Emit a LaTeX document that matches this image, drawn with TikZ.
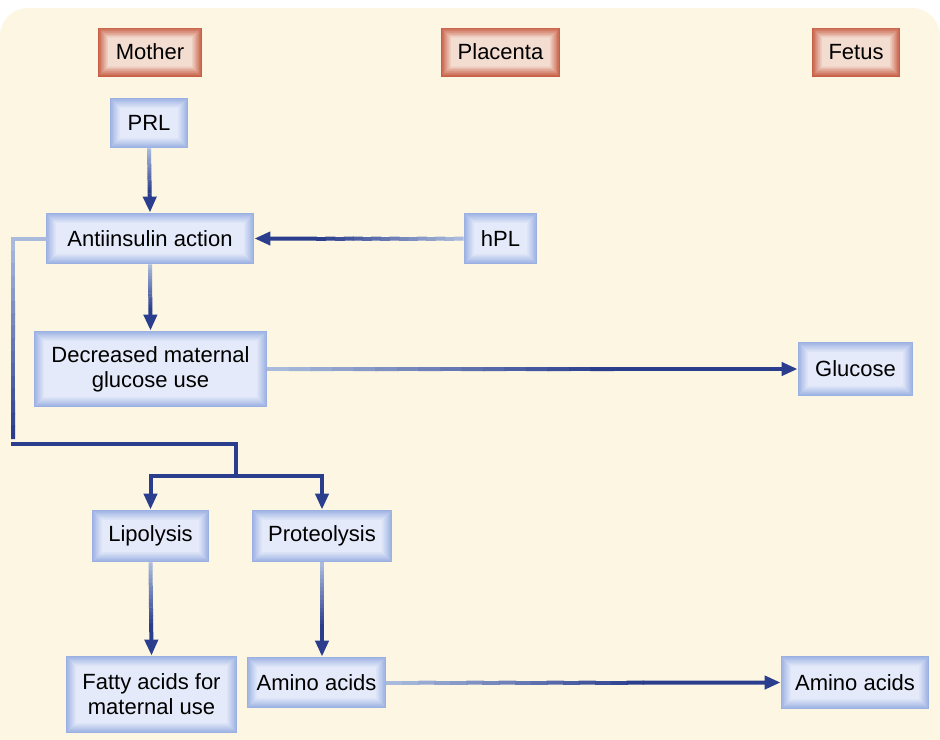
\documentclass[tikz,border=0pt]{standalone}
\usepackage{fontspec}
\setmainfont{Liberation Sans}
\usetikzlibrary{arrows.meta,calc,positioning}

\definecolor{cream}{HTML}{FDF6E2}
\definecolor{navy}{HTML}{2B3E8E}
\definecolor{paleline}{HTML}{A9BADC}
\definecolor{bluerim}{HTML}{9BB0E2}
\definecolor{bluemid}{HTML}{E4EAF9}
\definecolor{redrim}{HTML}{C75E45}
\definecolor{redmid}{HTML}{F3DCD0}

\tikzset{
  bevel/.style 2 args={path picture={
      \foreach \k in {0,...,16}{
        \pgfmathtruncatemacro\pc{100-\k*100/16}
        \fill[#2!\pc!#1]
          ([shift={(\k*0.32pt,\k*0.32pt)}]path picture bounding box.south west)
          rectangle
          ([shift={(-\k*0.32pt,-\k*0.32pt)}]path picture bounding box.north east);
      }}},
  sitebox/.style={inner sep=0pt, minimum height=24.5pt, bevel={redmid}{redrim}},
  stepbox/.style={inner sep=0pt, align=center, bevel={bluemid}{bluerim}},
  link/.style={draw=navy, line width=2pt, line cap=rect},
  flow/.style={draw=navy, line width=2pt, -{Triangle[length=8pt,width=6.5pt]}},
}

\begin{document}
\begin{tikzpicture}[x=0.5pt, y=-0.5pt, font=\fontsize{11}{12.5}\selectfont]
  \useasboundingbox (0,0) rectangle (940,739);
  \begin{scope}
    \clip (0,0) rectangle (940,739);
    \fill[white] (0,0) rectangle (940,739);
    \fill[cream, rounded corners=14] (0,8) rectangle (940,780);
  \end{scope}
  % pale-to-dark run over the first part, then the dark arrow
  \newcommand{\fadeon}[3]{%
    \foreach \i in {0,...,15}{
      \pgfmathtruncatemacro\pc{100*\i/15}
      \draw[line width=2pt, draw=navy!\pc!paleline]
        ($(#1)!{#3*\i/16}!(#2)$) -- ($(#1)!{#3*(\i+1.1)/16}!(#2)$);
    }}
  \newcommand{\fadearrow}[3]{%
    \fadeon{#1}{#2}{#3}
    \draw[flow] ($(#1)!#3!(#2)$) -- (#2);}

  \node[sitebox, minimum width=52pt]   (mother)   at (150,52)  {Mother};
  \node[sitebox, minimum width=59.5pt] (placenta) at (500.5,52) {Placenta};
  \node[sitebox, minimum width=44pt]   (fetus)    at (856,52)  {Fetus};

  \node[stepbox, minimum width=39pt, minimum height=25pt]     (prl)  at (149,123)     {PRL};
  \node[stepbox, minimum width=104pt, minimum height=25.5pt]  (anti) at (150,238.5)   {Antiinsulin action};
  \node[stepbox, minimum width=36.5pt, minimum height=25.5pt] (hpl)  at (500.5,238.5) {hPL};
  \node[stepbox, minimum width=116.5pt, minimum height=38pt]  (decr) at (150.5,369)   {Decreased maternal\\glucose use};
  \node[stepbox, minimum width=57.5pt, minimum height=27pt]   (gluc) at (855.5,369)   {Glucose};
  \node[stepbox, minimum width=58.5pt, minimum height=26pt]   (lipo) at (150.5,536)   {Lipolysis};
  \node[stepbox, minimum width=70pt, minimum height=26pt]     (prot) at (322,536)     {Proteolysis};
  \node[stepbox, minimum width=85.5pt, minimum height=38.5pt] (fatty) at (151.5,694.5) {Fatty acids for\\maternal use};
  \node[stepbox, minimum width=69.5pt, minimum height=25.5pt] (amino) at (316.5,682.5) {Amino acids};
  \node[stepbox, minimum width=74pt, minimum height=26.5pt]   (aminof) at (855,682.5) {Amino acids};

  \coordinate (turn) at (13,238.5);
  \coordinate (bend) at (13,444);
  \coordinate (fork) at (236,476);
  \coordinate (amtop) at (prot.south |- amino.north);

  \fadearrow{prl.south}{anti.north}{0.7}
  \fadearrow{hpl.west}{anti.east}{0.7}
  \fadearrow{anti.south}{decr.north}{0.7}
  \fadearrow{decr.east}{gluc.west}{0.65}

  \draw[line width=2pt, paleline, line cap=rect] (anti.west) -- (turn);
  \fadeon{turn}{bend}{0.97}
  \draw[link] (bend) -| (fork);
  \draw[link] (lipo.north |- fork) -- (prot.north |- fork);
  \draw[flow] (lipo.north |- fork) -- (lipo.north);
  \draw[flow] (prot.north |- fork) -- (prot.north);

  \fadearrow{lipo.south}{fatty.north}{0.7}
  \fadearrow{prot.south}{amtop}{0.7}
  \fadearrow{amino.east}{aminof.west}{0.65}
\end{tikzpicture}
\end{document}
